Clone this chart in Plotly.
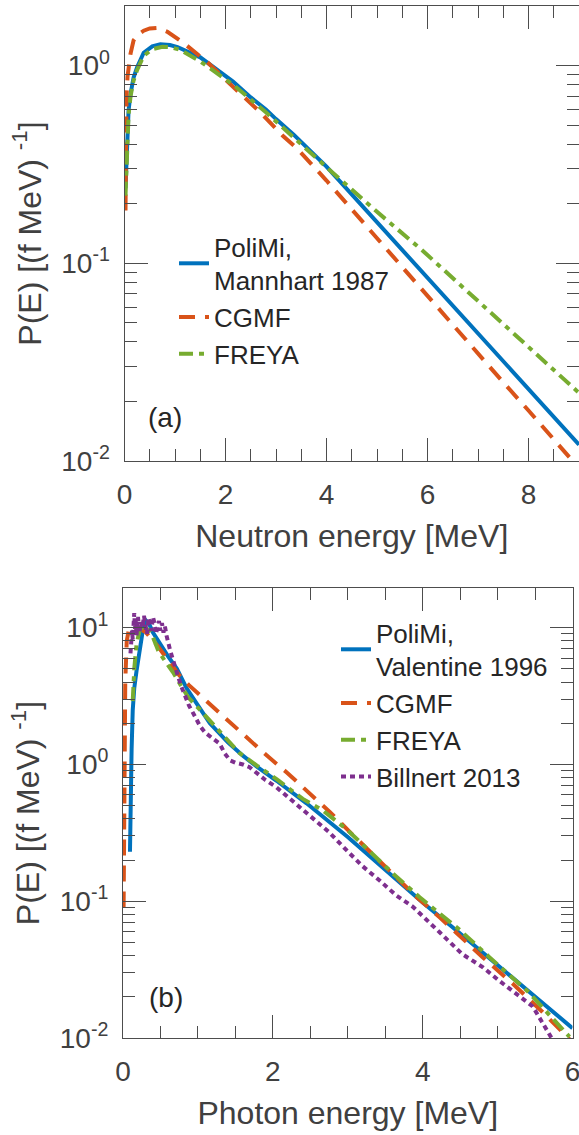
import plotly.graph_objects as go

# ---------------- data ----------------
# (a) neutron spectra
neu_E_polimi = [0.02, 0.05, 0.08, 0.12, 0.18, 0.25, 0.38, 0.55, 0.71, 0.9, 1.05, 1.5, 2.15, 2.5, 2.8, 3.0,
                3.35, 3.7, 4.0, 4.5, 5.0, 5.51, 6.0, 6.5, 7.0, 7.5, 8.0, 8.5, 9.0]
neu_P_polimi = [0.24, 0.45, 0.59, 0.72, 0.87, 0.98, 1.16, 1.25, 1.28, 1.27, 1.24, 1.10, 0.83, 0.69, 0.60, 0.536,
                0.447, 0.366, 0.308, 0.223, 0.161, 0.116, 0.084, 0.061, 0.044, 0.032, 0.023, 0.0167, 0.0121]

neu_E_cgmf = [0.02, 0.03, 0.04, 0.06, 0.08, 0.12, 0.18, 0.26, 0.38, 0.5, 0.65, 0.85, 1.17, 1.64, 2.15,
              2.69, 3.14, 3.42, 4.0, 4.5, 5.0, 5.32, 6.0, 6.5, 7.0, 7.5, 8.0, 8.5, 9.0]
neu_P_cgmf = [0.185, 0.45, 0.69, 0.88, 0.98, 1.15, 1.34, 1.43, 1.50, 1.54, 1.55, 1.48, 1.30, 1.04, 0.78,
              0.58, 0.44, 0.38, 0.262, 0.187, 0.133, 0.107, 0.068, 0.049, 0.035, 0.025, 0.018, 0.0129, 0.0092]

neu_E_freya = [0.02, 0.05, 0.08, 0.12, 0.18, 0.25, 0.38, 0.55, 0.75, 0.9, 1.1, 1.5, 2.15, 2.8, 3.35,
               4.0, 4.5, 5.0, 5.9, 6.5, 7.0, 7.5, 8.0, 8.5, 9.0]
neu_P_freya = [0.22, 0.42, 0.56, 0.70, 0.84, 0.95, 1.12, 1.21, 1.245, 1.24, 1.20, 1.05, 0.80, 0.58, 0.43,
               0.306, 0.236, 0.182, 0.116, 0.084, 0.064, 0.049, 0.0377, 0.0289, 0.0221]

# (b) photon spectra
gam_E_polimi = [0.093, 0.10, 0.115, 0.13, 0.15, 0.18, 0.20, 0.23, 0.27, 0.31, 0.35, 0.40, 0.49, 0.60, 0.72,
                0.85, 1.0, 1.16, 1.4, 1.6, 1.8, 2.05, 2.45, 3.0, 3.5, 4.0, 4.5, 5.0, 5.5, 6.0]
gam_P_polimi = [0.23, 0.5, 1.3, 2.5, 3.6, 4.8, 5.6, 7.5, 10.0, 11.2, 10.6, 9.2, 7.6, 6.2, 5.0,
                3.6, 2.7, 2.0, 1.45, 1.16, 0.95, 0.76, 0.52, 0.295, 0.17, 0.098, 0.058, 0.034, 0.020, 0.0118]

gam_E_cgmf = [0.008, 0.012, 0.016, 0.02, 0.03, 0.05, 0.08, 0.12, 0.2, 0.3, 0.45, 0.6, 0.75, 0.88, 1.03,
              1.29, 1.6, 1.89, 2.19, 2.49, 2.76, 3.03, 3.32, 3.62, 3.92, 4.23, 4.52, 4.8, 5.2, 5.6, 6.0]
gam_P_cgmf = [0.09, 0.2, 0.6, 1.5, 4.0, 8.0, 9.8, 10.2, 9.9, 9.3, 7.5, 5.8, 4.5, 3.8, 3.2,
              2.35, 1.68, 1.2, 0.87, 0.62, 0.45, 0.32, 0.224, 0.155, 0.107, 0.076, 0.054, 0.039, 0.025,
              0.0155, 0.0093]

gam_E_freya = [0.13, 0.15, 0.18, 0.22, 0.27, 0.32, 0.40, 0.47, 0.57, 0.67, 0.77, 0.87, 1.0, 1.12, 1.3,
               1.55, 1.8, 2.05, 2.4, 2.67, 3.0, 3.29, 3.6, 3.96, 4.49, 4.89, 5.4, 5.96]
gam_P_freya = [2.9, 5.0, 7.5, 9.5, 10.3, 10.0, 8.5, 6.8, 5.6, 4.7, 3.8, 3.1, 2.6, 2.2, 1.7,
               1.22, 0.97, 0.78, 0.56, 0.46, 0.33, 0.234, 0.16, 0.107, 0.062, 0.039, 0.022, 0.0102]

gam_E_billnert = [0.10, 0.11, 0.12, 0.13, 0.14, 0.15, 0.16, 0.17, 0.18, 0.19, 0.20, 0.22, 0.24, 0.26,
                  0.28, 0.30, 0.32, 0.34, 0.36, 0.38, 0.40, 0.42, 0.44, 0.46, 0.48, 0.50, 0.52, 0.54,
                  0.56, 0.58, 0.60, 0.63, 0.66, 0.70, 0.74, 0.78, 0.83, 0.88, 0.95, 1.03, 1.1, 1.2,
                  1.29, 1.36, 1.43, 1.5, 1.6, 1.69, 1.8, 1.9, 2.05, 2.25, 2.53, 2.75, 2.99, 3.2, 3.43,
                  3.65, 3.87, 4.05, 4.23, 4.53, 4.8, 5.03, 5.25, 5.47, 5.72]
gam_P_billnert = [6.5, 8.0, 9.5, 8.2, 11.0, 12.8, 9.8, 11.5, 8.8, 10.5, 12.0, 9.2, 11.0, 10.0,
                  12.2, 10.5, 9.0, 11.8, 10.2, 9.5, 12.0, 10.8, 9.0, 10.5, 11.2, 9.5, 10.8, 9.2,
                  10.2, 8.8, 7.8, 6.8, 6.0, 5.0, 4.3, 3.7, 3.1, 2.7, 2.3, 1.9, 1.7, 1.55,
                  1.42, 1.2, 1.07, 1.03, 1.0, 0.955, 0.85, 0.77, 0.68, 0.55, 0.41, 0.32, 0.234, 0.18, 0.141,
                  0.11, 0.091, 0.074, 0.059, 0.041, 0.033, 0.026, 0.021, 0.017, 0.0100]

neu_yticks = [0.01, 0.1, 1]
neu_yticktext = ["10<sup>-2</sup>", "10<sup>-1</sup>", "10<sup>0</sup>"]
gam_yticks = [0.01, 0.1, 1, 10]
gam_yticktext = ["10<sup>-2</sup>", "10<sup>-1</sup>", "10<sup>0</sup>", "10<sup>1</sup>"]

# ---------------- styling ----------------
BLUE, ORANGE, GREEN, PURPLE = "#0072BD", "#D95319", "#77AC30", "#7E2F8E"
FONT = "Liberation Sans, Arial, Helvetica, sans-serif"
AX = "#4d4d4d"
TXT = "#404040"
LW = 4

fig = go.Figure()

def add(x, y, name, color, dash, xa, ya, legend):
    fig.add_trace(go.Scatter(x=x, y=y, mode="lines", name=name, xaxis=xa, yaxis=ya,
                             line=dict(color=color, width=LW, dash=dash), legend=legend,
                             hoverinfo="skip"))

add(neu_E_polimi, neu_P_polimi, "PoliMi,<br>Mannhart 1987", BLUE, "solid", "x", "y", "legend")
add(neu_E_cgmf, neu_P_cgmf, "CGMF", ORANGE, "16px,10px", "x", "y", "legend")
add(neu_E_freya, neu_P_freya, "FREYA", GREEN, "14px,6px,5px,6px", "x", "y", "legend")

add(gam_E_polimi, gam_P_polimi, "PoliMi,<br>Valentine 1996", BLUE, "solid", "x2", "y2", "legend2")
add(gam_E_cgmf, gam_P_cgmf, "CGMF", ORANGE, "16px,10px", "x2", "y2", "legend2")
add(gam_E_freya, gam_P_freya, "FREYA", GREEN, "14px,6px,5px,6px", "x2", "y2", "legend2")
add(gam_E_billnert, gam_P_billnert, "Billnert 2013", PURPLE, "5px,4px", "x2", "y2", "legend2")

W, H = 579, 1135
ML, MR, MT, MB = 123, 0, 5, 97
pw, ph = W - ML - MR, H - MT - MB

def px2x(px):
    return (px - ML) / pw

def py2y(py):
    return (H - MB - py) / ph

common_x = dict(showline=True, linecolor=AX, linewidth=1, mirror="allticks",
                ticks="inside", ticklen=23, tickcolor=AX, tickwidth=1,
                tickfont=dict(family=FONT, size=28, color=TXT),
                showgrid=False, zeroline=False, dtick=2, tick0=0,
                ticklabelstandoff=8, ticklabeloverflow="allow",
                minor=dict(ticks="inside", ticklen=12, dtick=0.5, tickcolor=AX, tickwidth=1, showgrid=False),
                title_font=dict(family=FONT, size=32, color=TXT))
minor_log = [m * 10 ** k for k in range(-2, 2) for m in range(2, 10)]
common_y = dict(type="log", showline=True, linecolor=AX, linewidth=1, mirror="allticks",
                ticks="inside", ticklen=23, tickcolor=AX, tickwidth=1,
                tickfont=dict(family=FONT, size=28, color=TXT),
                showgrid=False, zeroline=False, ticklabelstandoff=8,
                minor=dict(ticks="inside", ticklen=12, tickvals=minor_log, tickcolor=AX, tickwidth=1,
                           showgrid=False),
                title_font=dict(family=FONT, size=32, color=TXT))

ytitle = "P(E) [(f MeV) <sup>-1</sup>]"

fig.update_layout(
    width=W, height=H, margin=dict(l=ML, r=MR, t=MT, b=MB, autoexpand=False),
    paper_bgcolor="white", plot_bgcolor="white",
    font=dict(family=FONT, color=TXT),
    xaxis=dict(common_x, domain=[px2x(124.5), 1], range=[0, 9], anchor="y",
               title=dict(text="Neutron energy [MeV]", standoff=16)),
    yaxis=dict(common_y, domain=[py2y(461), py2y(6)], range=[-2, 0.301], anchor="x",
               tickvals=neu_yticks, ticktext=neu_yticktext,
               title=dict(text=ytitle, standoff=10)),
    xaxis2=dict(common_x, domain=[0, px2x(572.5)], range=[0, 6], anchor="y2",
                title=dict(text="Photon energy [MeV]", standoff=16)),
    yaxis2=dict(common_y, domain=[0, py2y(588)], range=[-2, 1.29], anchor="x2",
                tickvals=gam_yticks, ticktext=gam_yticktext,
                title=dict(text=ytitle, standoff=10)),
    legend=dict(x=px2x(174), y=py2y(223), xanchor="left", yanchor="top",
                bgcolor="rgba(0,0,0,0)", font=dict(family=FONT, size=26, color="#262626"),
                tracegroupgap=0, itemwidth=30),
    legend2=dict(x=px2x(336), y=py2y(609), xanchor="left", yanchor="top",
                 bgcolor="rgba(0,0,0,0)", font=dict(family=FONT, size=26, color="#262626"),
                 tracegroupgap=0, itemwidth=30),
    showlegend=True,
    annotations=[
        dict(text="(a)", xref="x domain", yref="y domain", x=0.089, y=0.095,
             xanchor="center", yanchor="middle",
             showarrow=False, font=dict(family=FONT, size=28, color="#262626")),
        dict(text="(b)", xref="x2 domain", yref="y2 domain", x=0.096, y=0.091,
             xanchor="center", yanchor="middle",
             showarrow=False, font=dict(family=FONT, size=28, color="#262626")),
    ],
)

fig.write_html("out.html")
